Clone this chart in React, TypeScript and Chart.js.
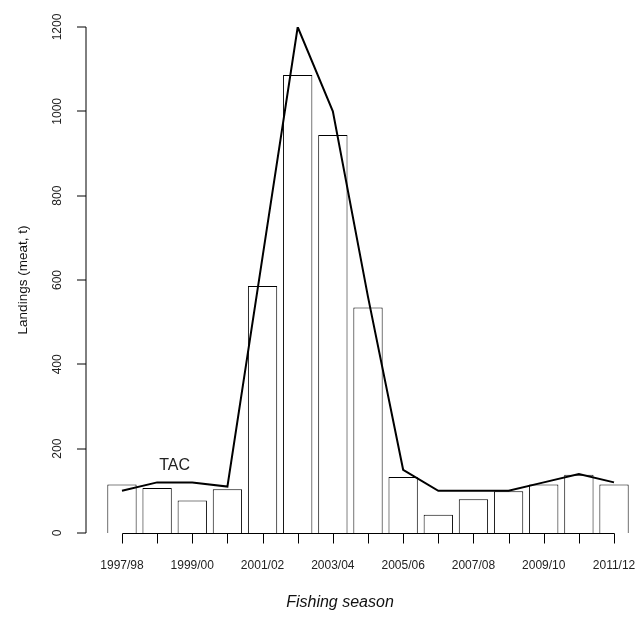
import React, { useEffect, useRef } from "react";
import { Chart, registerables } from "chart.js";

Chart.register(...registerables);

// Fishing seasons, landings (bars) and total allowable catch (line)
const seasons = [
  "1997/98", "1998/99", "1999/00", "2000/01", "2001/02",
  "2002/03", "2003/04", "2004/05", "2005/06", "2006/07",
  "2007/08", "2008/09", "2009/10", "2010/11", "2011/12",
];
const landings = [115, 107, 77, 104, 586, 1086, 944, 535, 133, 43, 80, 99, 115, 138, 115];
const tac = [100, 120, 120, 110, 655, 1200, 1000, 560, 150, 100, 100, 100, 120, 140, 120];

const yTicks = [0, 200, 400, 600, 800, 1000, 1200];
const labelledSeasons = [
  "1997/98", "1999/00", "2001/02", "2003/04",
  "2005/06", "2007/08", "2009/10", "2011/12",
];
const tacText = "TAC";
const tacTextAt = { index: 1.5, value: 160 };
const xTitle = "Fishing season";
const yTitle = "Landings (meat, t)";

const FONT = "'Liberation Sans', Arial, Helvetica, sans-serif";

const axesPlugin = {
  id: "baseAxes",
  afterDraw(chart: any) {
    const ctx = chart.ctx as CanvasRenderingContext2D;
    const xs = chart.scales.x;
    const ys = chart.scales.y;
    const y0 = ys.getPixelForValue(0);
    const yTop = ys.getPixelForValue(yTicks[yTicks.length - 1]);
    const axisX = 86;

    ctx.save();
    // y axis (soft 1px line straddling two pixel columns)
    ctx.strokeStyle = "#000";
    ctx.lineWidth = 1;
    ctx.beginPath();
    ctx.moveTo(axisX, Math.round(yTop));
    ctx.lineTo(axisX, Math.round(y0));
    for (const v of yTicks) {
      const py = Math.round(ys.getPixelForValue(v));
      ctx.moveTo(axisX, py);
      ctx.lineTo(axisX - 9, py);
    }
    ctx.stroke();

    ctx.fillStyle = "#222";
    ctx.font = `12px ${FONT}`;
    ctx.textAlign = "center";
    ctx.textBaseline = "middle";
    for (const v of yTicks) {
      const py = ys.getPixelForValue(v);
      ctx.save();
      ctx.translate(58, py);
      ctx.rotate(-Math.PI / 2);
      ctx.fillText(String(v), 0, 0);
      ctx.restore();
    }

    // x axis
    const firstX = Math.round(xs.getPixelForValue(0)) + 0.5;
    const lastX = Math.round(xs.getPixelForValue(seasons.length - 1)) + 0.5;
    const by = Math.round(y0) + 0.5;
    ctx.beginPath();
    ctx.moveTo(firstX, by);
    ctx.lineTo(lastX, by);
    seasons.forEach((_, i) => {
      const px = Math.round(xs.getPixelForValue(i)) + 0.5;
      ctx.moveTo(px, by);
      ctx.lineTo(px, by + 10);
    });
    ctx.stroke();

    labelledSeasons.forEach((s) => {
      const i = seasons.indexOf(s);
      ctx.fillText(s, xs.getPixelForValue(i), 566);
    });

    // titles
    ctx.fillStyle = "#111";
    ctx.font = `italic 16px ${FONT}`;
    ctx.fillText(xTitle, 340, 603);

    ctx.font = `13.5px ${FONT}`;
    ctx.save();
    ctx.translate(23, (y0 + yTop) / 2);
    ctx.rotate(-Math.PI / 2);
    ctx.fillText(yTitle, 0, 0);
    ctx.restore();

    // series label
    ctx.fillStyle = "#222";
    ctx.font = `16px ${FONT}`;
    ctx.fillText(
      tacText,
      xs.getPixelForValue(tacTextAt.index),
      ys.getPixelForValue(tacTextAt.value)
    );
    ctx.restore();
  },
};

export default function App() {
  const canvasRef = useRef<HTMLCanvasElement | null>(null);

  useEffect(() => {
    const canvas = canvasRef.current;
    if (!canvas) return;
    const chart = new Chart(canvas, {
      type: "bar",
      data: {
        labels: seasons,
        datasets: [
          {
            type: "line",
            label: "TAC",
            data: tac,
            borderColor: "#000",
            borderWidth: 2,
            pointRadius: 0,
            tension: 0,
            fill: false,
            order: 0,
          },
          {
            type: "bar",
            label: "Landings",
            data: landings,
            backgroundColor: "#fff",
            borderColor: "#000",
            borderWidth: 1,
            barPercentage: 0.834,
            categoryPercentage: 1,
            order: 1,
          },
        ],
      },
      plugins: [axesPlugin],
      options: {
        responsive: false,
        animation: false,
        devicePixelRatio: 1,
        layout: {
          padding: { left: 104.4, right: 8.4, top: 27, bottom: 89 },
        },
        plugins: {
          legend: { display: false },
          tooltip: { enabled: false },
          title: { display: false },
        },
        scales: {
          x: { type: "category", display: false, offset: true },
          y: { type: "linear", display: false, min: 0, max: 1200 },
        },
      },
    });
    return () => chart.destroy();
  }, []);

  return (
    <div style={{ position: "fixed", left: 0, top: 0, width: 640, height: 622, background: "#fff" }}>
      <canvas ref={canvasRef} width={640} height={622} style={{ display: "block", width: 640, height: 622 }} />
    </div>
  );
}
